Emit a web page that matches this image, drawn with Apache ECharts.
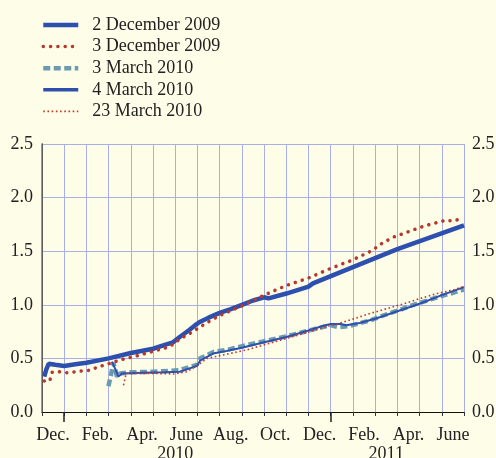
<!DOCTYPE html>
<html>
<head>
<meta charset="utf-8">
<script src="https://cdn.jsdelivr.net/npm/echarts@6/dist/echarts.min.js"></script>
<style>
  html, body { margin: 0; padding: 0; background: #fefde8; }
  #chart { width: 496px; height: 458px; }
</style>
</head>
<body>
<div id="chart"></div>
<script>
// x values are months counted from 1 December 2009
var monthNames = ['Dec.', 'Jan.', 'Feb.', 'Mar.', 'Apr.', 'May', 'June', 'July', 'Aug.', 'Sep.', 'Oct.', 'Nov.',
                  'Dec.', 'Jan.', 'Feb.', 'Mar.', 'Apr.', 'May', 'June'];
var yearNames = ['2010', '2011'];
var yearLabelAt = [6.0, 15.5];
var yearStartAt = [1, 13];

var dec2Months = [0.1, 0.2, 0.3, 0.6, 1.0, 1.5, 2.0, 3.0, 4.0, 5.0, 5.6, 5.9, 6.2, 6.6, 6.9, 7.1, 7.5, 8.0, 8.5, 9.0, 9.5, 10.0, 10.2, 11.0, 12.0, 12.2, 13.5, 16.0, 19.0];
var dec2Values = [0.33, 0.40, 0.45, 0.44, 0.43, 0.445, 0.46, 0.50, 0.55, 0.59, 0.63, 0.65, 0.70, 0.76, 0.81, 0.84, 0.88, 0.925, 0.96, 1.00, 1.04, 1.07, 1.06, 1.105, 1.17, 1.20, 1.31, 1.52, 1.74];

var dec3Months = [0.1, 0.35, 0.45, 0.8, 1.2, 1.5, 1.9, 2.2, 2.5, 2.85, 3.5, 4.2, 4.9, 5.6, 5.9, 6.2, 6.8, 7.4, 8.0, 9.0, 10.0, 11.0, 12.0, 13.0, 14.0, 14.9, 15.2, 15.8, 17.2, 18.2, 18.5, 18.8, 19.0];
var dec3Values = [0.29, 0.29, 0.37, 0.375, 0.365, 0.375, 0.385, 0.39, 0.42, 0.44, 0.485, 0.52, 0.56, 0.60, 0.63, 0.68, 0.75, 0.83, 0.90, 0.99, 1.09, 1.18, 1.25, 1.34, 1.42, 1.51, 1.56, 1.63, 1.735, 1.79, 1.78, 1.80, 1.81];

var mar3Months = [2.99, 3.1, 3.21, 3.3, 3.37, 3.52, 4.0, 5.0, 6.2, 6.97, 7.12, 7.72, 8.33, 8.93, 9.68, 10.58, 11.48, 12.39, 12.98, 13.35, 13.8, 14.34, 14.79, 15.24, 15.69, 16.14, 16.59, 17.04, 17.5, 17.94, 18.4, 18.85, 19.0];
var mar3Values = [0.24, 0.34, 0.46, 0.40, 0.33, 0.36, 0.37, 0.375, 0.39, 0.44, 0.50, 0.56, 0.58, 0.61, 0.645, 0.685, 0.73, 0.78, 0.81, 0.79, 0.80, 0.83, 0.855, 0.89, 0.925, 0.955, 0.99, 1.02, 1.05, 1.08, 1.105, 1.135, 1.14];

var mar4Months = [3.15, 3.3, 3.44, 3.6, 4.5, 5.5, 6.2, 6.97, 7.12, 7.7, 8.3, 9.0, 10.0, 11.0, 12.0, 12.6, 13.0, 13.45, 13.7, 14.3, 15.0, 16.0, 17.0, 18.0, 19.0];
var mar4Values = [0.47, 0.40, 0.33, 0.36, 0.365, 0.37, 0.375, 0.43, 0.48, 0.545, 0.57, 0.60, 0.65, 0.70, 0.76, 0.80, 0.82, 0.82, 0.81, 0.83, 0.87, 0.94, 1.01, 1.09, 1.165];

var mar23Months = [3.67, 3.79, 4.4, 5.0, 5.92, 6.5, 6.97, 7.43, 9.23, 10.73, 12.23, 12.83, 13.29, 14.04, 14.79, 15.54, 16.29, 17.04, 17.79, 18.54, 18.92, 19.0];
var mar23Values = [0.25, 0.36, 0.36, 0.36, 0.355, 0.375, 0.43, 0.50, 0.58, 0.67, 0.76, 0.80, 0.82, 0.87, 0.92, 0.965, 1.01, 1.06, 1.105, 1.14, 1.167, 1.17];

function pairUp(xs, ys) {
  return xs.map(function (x, i) { return [x, ys[i]]; });
}
function range(a, b, step) {
  var out = [];
  for (var v = a; v <= b + 1e-9; v += step) out.push(v);
  return out;
}

var font = '"Liberation Serif", "DejaVu Serif", serif';
var gridColor = '#a9aee3';
var blue = '#2d4fae', red = '#b5392e', steel = '#6a9bb1';

// line looks shared by the series and their legend entries
var styles = {
  '2 December 2009': { color: blue, width: 4.5 },
  '3 December 2009': { color: red, width: 3.5, type: [0.1, 7.2], cap: 'round' },
  '3 March 2010': { color: steel, width: 4.5, type: [7, 3.5] },
  '4 March 2010': { color: blue, width: 3 },
  '23 March 2010': { color: '#c0392b', width: 1.6, type: [1.6, 2.6] }
};
var seriesNames = Object.keys(styles);
var seriesData = [
  pairUp(dec2Months, dec2Values),
  pairUp(dec3Months, dec3Values),
  pairUp(mar3Months, mar3Values),
  pairUp(mar4Months, mar4Values),
  pairUp(mar23Months, mar23Values)
];
var zOrder = [2, 5, 3, 4, 6];

var chart = echarts.init(document.getElementById('chart'), null, { renderer: 'canvas' });

var option = {
  backgroundColor: '#fefde8',
  animation: false,
  textStyle: { fontFamily: font },
  legend: {
    orient: 'vertical',
    left: 41,
    top: 16,
    padding: 0,
    itemWidth: 35,
    itemHeight: 14,
    itemGap: 3.6,
    itemStyle: { opacity: 0, borderWidth: 0 },
    textStyle: { fontFamily: font, fontSize: 18, color: '#222', padding: [0, 0, 0, 9] },
    data: seriesNames.map(function (n) {
      var s = styles[n];
      return { name: n, lineStyle: { color: s.color, width: n === '4 March 2010' ? 3.5 : s.width, type: s.type || 'solid', cap: s.cap || 'butt' } };
    })
  },
  grid: { left: 42, right: 32, top: 144, bottom: 46, outerBoundsMode: 'none' },
  xAxis: [
    {
      type: 'value', min: 0, max: 19, interval: 1, position: 'bottom',
      axisLine: { show: true, lineStyle: { color: '#111', width: 1 } },
      axisTick: { show: true, length: 4, customValues: range(0, 19, 1), lineStyle: { color: '#333' } },
      axisLabel: {
        customValues: range(0.5, 18.5, 2),
        formatter: function (v) { return monthNames[Math.floor(v)]; },
        fontFamily: font, fontSize: 18, color: '#222', margin: 14
      },
      splitLine: { show: true, lineStyle: { color: gridColor, width: 1 } }
    },
    {
      type: 'value', min: 0, max: 19, position: 'bottom',
      axisLine: { show: false },
      axisTick: { show: true, length: 10, customValues: yearStartAt, lineStyle: { color: '#222', width: 1.5 } },
      axisLabel: {
        customValues: yearLabelAt,
        formatter: function (v) { return yearNames[yearLabelAt.indexOf(v)]; },
        fontFamily: font, fontSize: 18, color: '#222', margin: 33
      },
      splitLine: { show: false }
    }
  ],
  yAxis: [
    {
      type: 'value', min: 0, max: 2.5, interval: 0.5, position: 'left',
      axisLine: { show: true, lineStyle: { color: '#111', width: 1 } },
      axisTick: { show: false },
      axisLabel: { formatter: function (v) { return v.toFixed(1); }, fontFamily: font, fontSize: 18, color: '#222', margin: 9 },
      splitLine: { show: true, lineStyle: { color: gridColor, width: 1 } }
    },
    {
      type: 'value', min: 0, max: 2.5, interval: 0.5, position: 'right',
      axisLine: { show: true, lineStyle: { color: '#777', width: 1.5 } },
      axisTick: { show: false },
      axisLabel: { formatter: function (v) { return v.toFixed(1); }, fontFamily: font, fontSize: 18, color: '#222', margin: 8 },
      splitLine: { show: false }
    }
  ],
  series: seriesNames.map(function (n, i) {
    var s = styles[n];
    return {
      name: n, type: 'line', symbol: 'none', showSymbol: false, z: zOrder[i],
      data: seriesData[i],
      lineStyle: { color: s.color, width: n === '4 March 2010' ? 2 : s.width, type: s.type || 'solid', cap: s.cap || 'butt' },
      itemStyle: { color: s.color }
    };
  })
};

chart.setOption(option);
</script>
</body>
</html>
